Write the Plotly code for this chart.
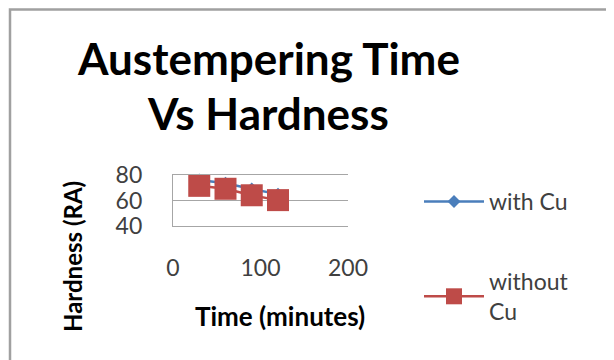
import plotly.graph_objects as go

time_min = [30, 60, 90, 120]
with_cu = [76, 73.5, 69, 65]
without_cu = [71.5, 69.2, 64.1, 60.3]
x_ticks = [0, 100, 200]
y_ticks = [40, 60, 80]

W, H = 614, 360
OFF = 8  # page body margin offset in the screenshot
X0, X1, Y0, Y1 = 173 - OFF, 348 - OFF, 175 - OFF, 226 - OFF  # plot area pixels
L, R, T, B = X0, W - X1, Y0, H - Y1


def px(x):
    return (x - OFF - X0) / (X1 - X0)


def py(y):
    return (Y1 - (y - OFF)) / (Y1 - Y0)


fig = go.Figure()
fig.add_trace(go.Scatter(
    x=time_min, y=with_cu, name="with Cu", mode="lines+markers",
    line=dict(color="#4A7EBB", width=2.5),
    marker=dict(symbol="diamond", size=10, color="#4A7EBB"),
    legendgroup="a", cliponaxis=False))
fig.add_trace(go.Scatter(
    x=time_min, y=without_cu, name="without<br>Cu", mode="lines+markers",
    line=dict(color="#BE4B48", width=2.5),
    marker=dict(symbol="square", size=22, color="#BE4B48"),
    legendgroup="b", cliponaxis=False))

font_family = "Lato, 'Open Sans', sans-serif"
fig.update_layout(
    width=W, height=H,
    margin=dict(l=L, r=R, t=T, b=B, pad=0, autoexpand=False),
    paper_bgcolor="white", plot_bgcolor="white",
    font=dict(family=font_family, color="#404040"),
    showlegend=True,
    legend=dict(x=px(419), xanchor="left", xref="paper",
                y=(H - (180 - OFF)) / H, yref="container", yanchor="top",
                font=dict(size=23, color="#404040"),
                tracegroupgap=47, itemwidth=60, bgcolor="rgba(0,0,0,0)"),
    xaxis=dict(range=[0, 200], tickvals=x_ticks, showgrid=False, zeroline=False,
               showline=True, mirror=True, linecolor="#A6A6A6", linewidth=1.3,
               ticks="", tickfont=dict(size=23, color="#404040"),
               ticklabelstandoff=21, fixedrange=True, automargin=False),
    yaxis=dict(range=[40, 80], tickvals=y_ticks, showgrid=True, gridcolor="#A6A6A6",
               gridwidth=1.3, zeroline=False, showline=True, linecolor="#A6A6A6",
               linewidth=1.3, ticks="", tickfont=dict(size=23, color="#404040"),
               ticklabelstandoff=25, fixedrange=True, automargin=False),
)

# chart outer border
fig.add_shape(type="rect", xref="paper", yref="paper",
              x0=px(10), x1=px(700), y0=py(420), y1=py(9.5),
              line=dict(color="#A0A0A0", width=2.5), layer="below")

title_font = dict(family=font_family, size=44, color="black")
for txt, yc in [("<b>Austempering Time</b>", 58), ("<b>Vs Hardness</b>", 113)]:
    fig.add_annotation(text=txt, xref="paper", yref="paper",
                       x=px(268), y=py(yc),
                       showarrow=False, xanchor="center", yanchor="middle",
                       font=title_font)

fig.add_annotation(text="<b>Hardness (RA)</b>", textangle=-90, xref="paper", yref="paper",
                   x=px(72), y=py(257),
                   showarrow=False, xanchor="center", yanchor="middle",
                   font=dict(family=font_family, size=24, color="black"))
fig.add_annotation(text="<b>Time (minutes)</b>", xref="paper", yref="paper",
                   x=px(280), y=py(316),
                   showarrow=False, xanchor="center", yanchor="middle",
                   font=dict(family=font_family, size=26, color="black"))

fig.write_html("out.html")
